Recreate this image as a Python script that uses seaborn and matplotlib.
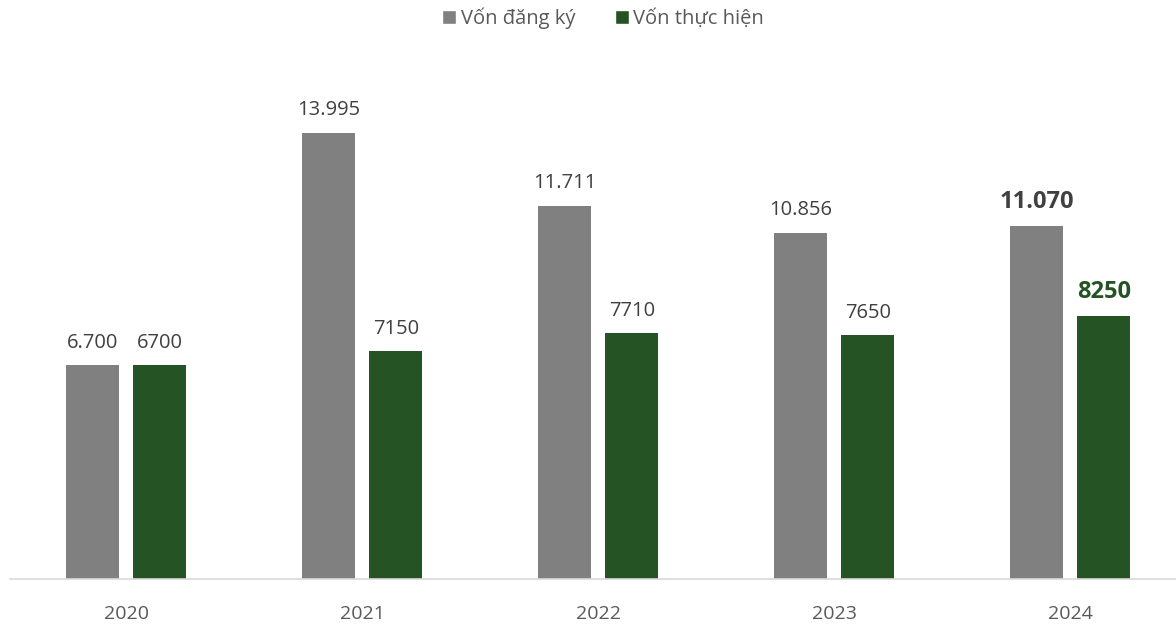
import matplotlib
matplotlib.use("Agg")
import matplotlib.pyplot as plt
import seaborn as sns
import pandas as pd
from matplotlib.patches import Patch

years = ["2020", "2021", "2022", "2023", "2024"]
registered = [6700, 13995, 11711, 10856, 11070]
implemented = [6700, 7150, 7710, 7650, 8250]
series_names = ["Vốn đăng ký", "Vốn thực hiện"]
registered_labels = ["6.700", "13.995", "11.711", "10.856", "11.070"]
implemented_labels = ["6700", "7150", "7710", "7650", "8250"]

GRAY = "#808080"
GREEN = "#265323"
TEXT = "#404040"

sns.set_theme(style="white")
plt.rcParams['font.family'] = ['Open Sans', 'DejaVu Sans']

df = pd.DataFrame({
    "year": years * 2,
    "value": registered + implemented,
    "series": [series_names[0]] * len(years) + [series_names[1]] * len(years),
})

fig = plt.figure(figsize=(11.76, 6.26), dpi=100)
ax = fig.add_axes([10 / 1176, 47 / 626, 1 - 10 / 1176, 510 / 626])

sns.barplot(data=df, x="year", y="value", hue="series",
            palette=[GRAY, GREEN], width=0.57, gap=0.21,
            saturation=1, ax=ax, legend=False, linewidth=0)

ax.set_ylim(0, 16000)
ax.set_xlim(-0.492, 4.448)
ax.set_yticks([])
ax.set_xlabel("")
ax.set_ylabel("")
for s in ["top", "left", "right"]:
    ax.spines[s].set_visible(False)
ax.spines["bottom"].set_color("#d9d9d9")
ax.spines["bottom"].set_linewidth(1.2)
ax.tick_params(axis="x", length=0, pad=19, labelsize=14, labelcolor="#595959")

for container, labels, col in zip(ax.containers, [registered_labels, implemented_labels], [TEXT, GREEN]):
    for i, (bar, lab) in enumerate(zip(container, labels)):
        last = i == len(labels) - 1
        ax.annotate(lab, (bar.get_x() + bar.get_width() / 2, bar.get_height()),
                    xytext=(0, 9), textcoords="offset points",
                    ha="center", va="bottom",
                    fontsize=17 if last else 14.5,
                    fontweight="bold" if last else "normal",
                    color=(col if last else TEXT))

handles = [Patch(facecolor=GRAY), Patch(facecolor=GREEN)]
fig.legend(handles, series_names, loc="center", bbox_to_anchor=(0.513, 1 - 18 / 626),
           ncol=2, frameon=False, fontsize=14.5, labelcolor="#595959",
           handlelength=0.7, handleheight=0.7, handletextpad=0.2, columnspacing=2.0)

fig.savefig("out.png", dpi=100)
